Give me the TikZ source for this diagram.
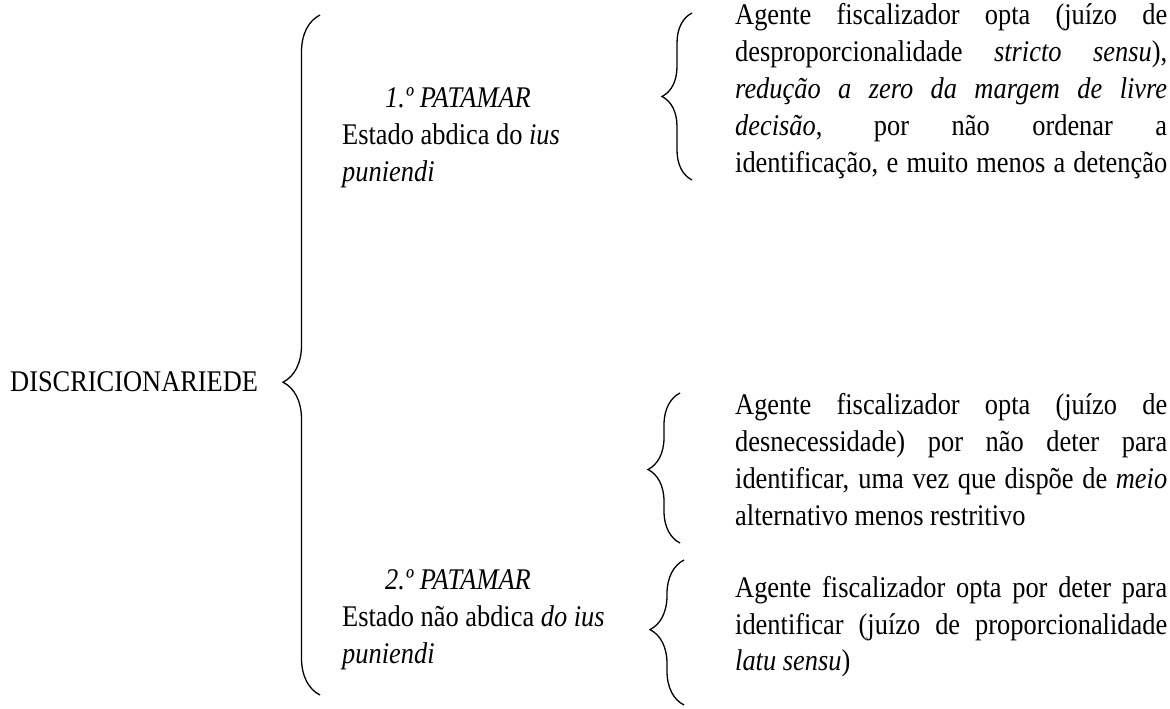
\documentclass[tikz,border=0pt]{standalone}
\usepackage{fontspec}
\setmainfont{Liberation Serif}
\newfontfamily\narrowserif[FakeStretch=0.88]{Liberation Serif}
\usetikzlibrary{decorations.pathreplacing}

\begin{document}
\begin{tikzpicture}[x=1pt, y=-1pt,
  txt/.style={anchor=base west, inner sep=0pt, font=\narrowserif\fontsize{30}{37}\selectfont},
  wbrace/.style 2 args={decorate, decoration={brace, amplitude=#1, aspect=#2}, line width=1.3pt}]

    \useasboundingbox (0,0) rectangle (1170,709);

    \node[txt] (disc) at (10,391) {DISCRICIONARIEDE};

    \node[txt] (pat1) at (385,107) {\textit{1.º PATAMAR}};
    \node[txt] (est1) at (342,144) {Estado abdica do \textit{ius}};
    \node[txt] (pun1) at (342,181) {\textit{puniendi}};

    \node[txt] (pat2) at (385,589) {\textit{2.º PATAMAR}};
    \node[txt] (est2) at (342,626) {Estado não abdica \textit{do ius}};
    \node[txt] (pun2) at (342,663) {\textit{puniendi}};

    % first branch
    \node[txt] (a1) at (735,25) {\makebox[432pt][s]{Agente fiscalizador opta (juízo de}};
    \node[txt] (a2) at (735,62) {\makebox[432pt][s]{desproporcionalidade \textit{stricto sensu}),}};
    \node[txt] (a3) at (735,98) {\makebox[432pt][s]{\textit{redução a zero da margem de livre}}};
    \node[txt] (a4) at (735,135) {\makebox[432pt][s]{\textit{decisão}, por não ordenar a}};
    \node[txt] (a5) at (735,172) {\makebox[432pt][s]{identificação, e muito menos a detenção}};

    % second branch
    \node[txt] (b1) at (735,414) {\makebox[432pt][s]{Agente fiscalizador opta (juízo de}};
    \node[txt] (b2) at (735,451) {\makebox[432pt][s]{desnecessidade) por não deter para}};
    \node[txt] (b3) at (735,488) {\makebox[432pt][s]{identificar, uma vez que dispõe de \textit{meio}}};
    \node[txt] (b4) at (735,525) {alternativo menos restritivo};

    % third branch
    \node[txt] (c1) at (735,597) {\makebox[432pt][s]{Agente fiscalizador opta por deter para}};
    \node[txt] (c2) at (735,634) {\makebox[432pt][s]{identificar (juízo de proporcionalidade}};
    \node[txt] (c3) at (735,670) {\textit{latu sensu})};

    \coordinate (k0t) at (320,15);
    \coordinate (k0b) at (320,695);
    \coordinate (k1t) at (692,13);
    \coordinate (k1b) at (692,180);
    \coordinate (k2t) at (680,393);
    \coordinate (k2b) at (680,543);
    \coordinate (k3t) at (684,560);
    \coordinate (k3b) at (684,705);

    \draw[wbrace={37pt}{0.46}] (k0b) -- (k0t);
    \draw[wbrace={30pt}{0.5}] (k1b) -- (k1t);
    \draw[wbrace={32pt}{0.49}] (k2b) -- (k2t);
    \draw[wbrace={34pt}{0.52}] (k3b) -- (k3t);
\end{tikzpicture}
\end{document}
